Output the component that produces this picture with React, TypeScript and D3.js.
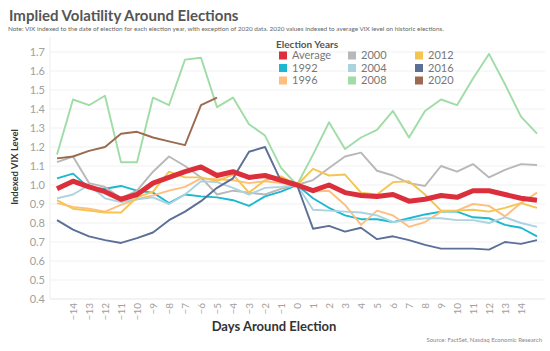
import React, { useEffect, useRef } from "react";
import * as d3 from "d3";

// days around the election (-15 .. 15)
const days = [-15, -14, -13, -12, -11, -10, -9, -8, -7, -6, -5, -4, -3, -2, -1, 0, 1, 2, 3, 4, 5, 6, 7, 8, 9, 10, 11, 12, 13, 14, 15];
const dayTicks = [-14, -13, -12, -11, -10, -9, -8, -7, -6, -5, -4, -3, -2, -1, 0, 1, 2, 3, 4, 5, 6, 7, 8, 9, 10, 11, 12, 13, 14];
const yTicks = [0.4, 0.5, 0.6, 0.7, 0.8, 0.9, 1.0, 1.1, 1.2, 1.3, 1.4, 1.5, 1.6, 1.7];

const avg = [0.98, 1.02, 0.99, 0.965, 0.925, 0.95, 1.01, 1.04, 1.07, 1.095, 1.05, 1.07, 1.04, 1.05, 1.025, 1.0, 0.97, 1.0, 0.96, 0.945, 0.94, 0.95, 0.915, 0.925, 0.945, 0.935, 0.97, 0.97, 0.95, 0.93, 0.92];
const y1992 = [1.035, 1.06, 0.985, 0.98, 0.995, 0.97, 0.96, 0.905, 0.95, 0.94, 0.935, 0.92, 0.89, 0.94, 0.965, 1.0, 0.93, 0.88, 0.84, 0.82, 0.82, 0.805, 0.825, 0.845, 0.86, 0.86, 0.83, 0.825, 0.79, 0.775, 0.73];
const y1996 = [0.905, 0.885, 0.875, 0.86, 0.895, 0.925, 0.945, 0.97, 0.99, 1.035, 1.03, 1.025, 1.01, 1.02, 1.01, 1.0, 0.965, 0.97, 0.895, 0.79, 0.865, 0.84, 0.78, 0.805, 0.86, 0.865, 0.9, 0.89, 0.835, 0.905, 0.96];
const y2000 = [1.12, 1.15, 1.01, 0.99, 0.93, 0.97, 1.07, 1.15, 1.1, 1.04, 0.95, 0.97, 0.96, 0.95, 0.98, 1.0, 1.026, 1.09, 1.15, 1.17, 1.075, 1.05, 1.01, 0.995, 1.1, 1.07, 1.11, 1.04, 1.08, 1.11, 1.105];
const y2004 = [0.93, 0.95, 1.0, 0.93, 0.91, 0.925, 0.935, 0.9, 0.95, 1.02, 1.015, 0.985, 0.95, 0.985, 0.99, 1.0, 0.87, 0.865, 0.86, 0.855, 0.84, 0.805, 0.815, 0.825, 0.825, 0.815, 0.815, 0.8, 0.83, 0.8, 0.78];
const y2008 = [1.16, 1.45, 1.42, 1.47, 1.12, 1.12, 1.46, 1.42, 1.66, 1.67, 1.41, 1.46, 1.32, 1.26, 1.09, 1.0, 1.16, 1.33, 1.19, 1.25, 1.29, 1.39, 1.25, 1.39, 1.45, 1.42, 1.56, 1.69, 1.53, 1.36, 1.27];
const y2012 = [0.92, 0.875, 0.865, 0.855, 0.855, 0.935, 0.965, 1.07, 1.04, 1.04, 1.02, 1.055, 0.96, 1.025, 1.045, 1.0, 1.085, 1.05, 1.055, 0.96, 0.95, 1.015, 1.02, 0.95, 0.865, 0.865, 0.87, 0.86, 0.88, 0.905, 0.88];
const y2016 = [0.815, 0.765, 0.73, 0.71, 0.695, 0.72, 0.75, 0.815, 0.86, 0.915, 0.985, 1.035, 1.175, 1.2, 1.02, 1.0, 0.77, 0.785, 0.755, 0.775, 0.715, 0.73, 0.71, 0.685, 0.665, 0.665, 0.665, 0.66, 0.7, 0.69, 0.71];
const y2020 = [1.14, 1.15, 1.18, 1.2, 1.27, 1.28, 1.25, 1.23, 1.21, 1.42, 1.46, null, null, null, null, null, null, null, null, null, null, null, null, null, null, null, null, null, null, null, null];

const names = ["Average", "1992", "1996", "2000", "2004", "2008", "2012", "2016", "2020"];
const seriesValues = [avg, y1992, y1996, y2000, y2004, y2008, y2012, y2016, y2020];
const colors = ["#dc2f3c", "#1cb8cf", "#ffbe7d", "#b8b8b8", "#abd3df", "#9fdca6", "#f4c550", "#5c6f97", "#9b6a4f"];

const FONT = "Lato, 'Open Sans', sans-serif";

export default function App() {
  const ref = useRef<SVGSVGElement>(null);

  useEffect(() => {
    const svg = d3.select(ref.current);
    svg.selectAll("*").remove();

    const left = 50, right = 545, top = 42.5, bottom = 299;

    const x = d3.scaleLinear().domain([-15, 15]).range([57, 537]);
    const y = d3.scaleLinear().domain([0.4, 1.75]).range([bottom, top]);

    // title + note
    svg.append("text").attr("x", 9).attr("y", 21).text("Implied Volatility Around Elections")
      .style("font-family", FONT).style("font-size", "15px").style("font-weight", "bold").style("fill", "#555");
    svg.append("text").attr("x", 8).attr("y", 30.5)
      .text("Note: VIX indexed to the date of election for each election year, with exception of 2020 data. 2020 values indexed to average VIX level on historic elections.")
      .style("font-family", FONT).style("font-size", "6.4px").style("fill", "#666");

    // gridlines
    svg.append("g").selectAll("line").data(yTicks).enter().append("line")
      .attr("x1", left).attr("x2", right)
      .attr("y1", (d) => y(d)).attr("y2", (d) => y(d))
      .style("stroke", "#f1f1f1").style("stroke-width", 1);
    svg.append("line").attr("x1", left).attr("x2", left).attr("y1", top - 5).attr("y2", bottom)
      .style("stroke", "#eee");
    svg.append("line").attr("x1", left).attr("x2", right).attr("y1", bottom).attr("y2", bottom)
      .style("stroke", "#eee");

    // y axis
    const yAxis = svg.append("g").attr("transform", "translate(" + left + ",0)")
      .call(d3.axisLeft(y).tickValues(yTicks).tickFormat(d3.format(".1f")).tickSize(0).tickPadding(5));
    yAxis.select(".domain").remove();
    yAxis.selectAll("text").style("font-family", FONT).style("font-size", "11px").style("fill", "#a0a0a0");

    // x axis
    const xAxis = svg.append("g").attr("transform", "translate(0," + bottom + ")")
      .call(d3.axisBottom(x).tickValues(dayTicks).tickFormat(d3.format("d")).tickSize(0));
    xAxis.select(".domain").remove();
    xAxis.selectAll("text")
      .attr("transform", "rotate(-90)")
      .attr("x", -4).attr("y", 0).attr("dy", "0.35em")
      .style("text-anchor", "end")
      .style("font-family", FONT).style("font-size", "10px").style("fill", "#a0a0a0");

    // axis titles
    svg.append("text").attr("transform", "translate(18,167) rotate(-90)")
      .style("text-anchor", "middle").text("Indexed VIX Level")
      .style("font-family", FONT).style("font-size", "9.5px").style("font-weight", "bold").style("fill", "#333");
    svg.append("text").attr("x", 274).attr("y", 331).style("text-anchor", "middle").text("Days Around Election")
      .style("font-family", FONT).style("font-size", "13px").style("font-weight", "bold").style("fill", "#333");
    svg.append("text").attr("x", 542).attr("y", 342).style("text-anchor", "end").text("Source: FactSet, Nasdaq Economic Research")
      .style("font-family", FONT).style("font-size", "6px").style("fill", "#888");

    // lines
    const line = d3.line<number | null>()
      .defined((d) => d != null)
      .x((d, i) => x(days[i]))
      .y((d) => y(d as number));

    const order = [1, 2, 3, 4, 5, 6, 7, 8, 0];
    order.forEach((k) => {
      svg.append("path")
        .datum(seriesValues[k])
        .attr("d", line)
        .style("fill", "none")
        .style("stroke", colors[k])
        .style("stroke-width", k === 0 ? 5 : 1.9)
        .style("stroke-linejoin", "round");
    });

    // legend
    const lg = svg.append("g");
    lg.append("text").attr("x", 276).attr("y", 47.5).text("Election Years")
      .style("font-family", FONT).style("font-size", "10px").style("font-weight", "bold").style("fill", "#555");
    const colX = [283, 352, 419];
    const rowY = [55.5, 68, 80.5];
    names.forEach((n, i) => {
      const cx = colX[Math.floor(i / 3)];
      const cy = rowY[i % 3];
      lg.append("rect").attr("x", cx - 4).attr("y", cy - 4).attr("width", 8).attr("height", 8)
        .style("fill", colors[i]);
      lg.append("text").attr("x", cx + 9).attr("y", cy).attr("dy", "0.36em").text(n)
        .style("font-family", FONT).style("font-size", "11px").style("fill", "#777");
    });
  }, []);

  return (
    <svg ref={ref} width={550} height={351} style={{ position: "absolute", left: 0, top: 0, background: "#fff" }} />
  );
}
